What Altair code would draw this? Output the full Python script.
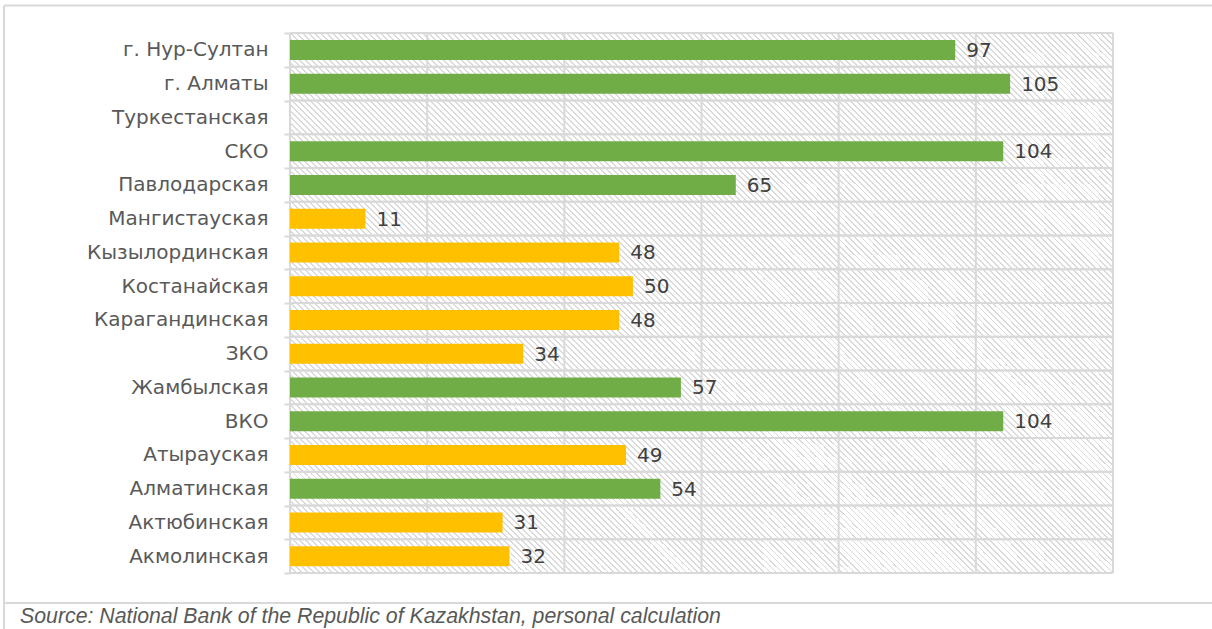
import altair as alt
import pandas as pd

# ---- data ----
regions = ["г. Нур-Султан", "г. Алматы", "Туркестанская", "СКО", "Павлодарская",
           "Мангистауская", "Кызылординская", "Костанайская", "Карагандинская", "ЗКО",
           "Жамбылская", "ВКО", "Атырауская", "Алматинская", "Актюбинская", "Акмолинская"]
values = [97, 105, None, 104, 65, 11, 48, 50, 48, 34, 57, 104, 49, 54, 31, 32]
groups = ["green", "green", "green", "green", "green", "yellow", "yellow", "yellow",
          "yellow", "yellow", "green", "green", "yellow", "green", "yellow", "yellow"]
x_ticks = [0, 20, 40, 60, 80, 100, 120]
source_note = "Source: National Bank of the Republic of Kazakhstan, personal calculation"

# ---- layout / style ----
W, H = 823, 540
PAD_L, PAD_T = 290, 33
TOTAL_W, TOTAL_H = 1212, 629
GRID = "#d9d9d9"
LABEL_FONT = "DejaVu Sans"
FS = 20

df = pd.DataFrame({"region": regions, "value": values, "group": groups})
ticks_df = pd.DataFrame({"t": x_ticks})
reg_df = pd.DataFrame({"region": regions})
one = pd.DataFrame({"a": [0]})
src_df = pd.DataFrame({"t": [source_note]})

xscale = alt.Scale(domain=[0, 120], nice=False, zero=True)
yscale = alt.Scale(domain=regions, paddingInner=0, paddingOuter=0)
yaxis = alt.Axis(title=None, domain=False, grid=False, ticks=True,
                 tickBand="extent", tickSize=6, tickColor=GRID, tickWidth=2,
                 labelFont=LABEL_FONT, labelFontSize=FS, labelColor="#595959",
                 labelPadding=16, labelLimit=300)

# diagonal hatch built as a striped linear gradient
T = W + H
P = 6.0
frac = 0.32
white, gray = "#ffffff", "#dadada"
stops = []
k = 0
while k * P / T <= 1:
    a = k * P / T
    b = min((k * P + P * frac) / T, 1.0)
    stops += [alt.GradientStop(offset=a, color=white), alt.GradientStop(offset=a, color=gray),
              alt.GradientStop(offset=b, color=gray), alt.GradientStop(offset=b, color=white)]
    k += 1
coef = T / (W * W + H * H)
hatch_fill = alt.LinearGradient(gradient="linear", stops=stops, x1=0, y1=1,
                                x2=coef * W, y2=1 - coef * H)

hatch = alt.Chart(one).mark_rect(fill=hatch_fill, strokeWidth=0).encode(
    x=alt.value(0), x2=alt.value(W), y=alt.value(0), y2=alt.value(H))

vgrid = alt.Chart(ticks_df).mark_rule(color=GRID, strokeWidth=2).encode(
    x=alt.X("t:Q", scale=xscale, axis=None), y=alt.value(0), y2=alt.value(H))

hgrid_top = alt.Chart(reg_df).mark_rule(color=GRID, strokeWidth=2).encode(
    y=alt.Y("region:N", scale=yscale, bandPosition=0, axis=yaxis),
    x=alt.value(0), x2=alt.value(W))
hgrid_bot = alt.Chart(reg_df).mark_rule(color=GRID, strokeWidth=2).encode(
    y=alt.Y("region:N", scale=yscale, bandPosition=1, axis=yaxis),
    x=alt.value(0), x2=alt.value(W))

bars = alt.Chart(df).mark_bar(height=20).encode(
    x=alt.X("value:Q", scale=xscale, axis=None),
    y=alt.Y("region:N", scale=yscale, axis=yaxis),
    color=alt.Color("group:N", scale=alt.Scale(domain=["green", "yellow"],
                                               range=["#70ad47", "#ffc000"]), legend=None),
)

labels = alt.Chart(df).mark_text(align="left", baseline="middle", dx=11, dy=1,
                                 font=LABEL_FONT, fontSize=FS, color="#404040").encode(
    x=alt.X("value:Q", scale=xscale, axis=None),
    y=alt.Y("region:N", scale=yscale, axis=yaxis),
    text=alt.Text("value:Q", format="d"),
)

frame_top = alt.Chart(one).mark_rule(color=GRID, strokeWidth=2).encode(
    x=alt.value(4 - PAD_L), x2=alt.value(TOTAL_W - PAD_L), y=alt.value(5.5 - PAD_T))
frame_left = alt.Chart(one).mark_rule(color=GRID, strokeWidth=2).encode(
    x=alt.value(4 - PAD_L), y=alt.value(5.5 - PAD_T), y2=alt.value(TOTAL_H - PAD_T))
frame_sep = alt.Chart(one).mark_rule(color=GRID, strokeWidth=2).encode(
    x=alt.value(4 - PAD_L), x2=alt.value(TOTAL_W - PAD_L), y=alt.value(603 - PAD_T))

source = alt.Chart(src_df).mark_text(align="left", baseline="alphabetic",
                                     font="Liberation Sans", fontStyle="italic",
                                     fontSize=21.3, color="#595959").encode(
    x=alt.value(20 - PAD_L), y=alt.value(623 - PAD_T), text="t:N")

chart = alt.layer(hatch, vgrid, hgrid_top, hgrid_bot, bars, labels,
                  frame_top, frame_left, frame_sep, source).properties(
    width=W, height=H,
    padding={"left": PAD_L, "top": PAD_T, "right": TOTAL_W - PAD_L - W,
             "bottom": TOTAL_H - PAD_T - H},
    autosize=alt.AutoSizeParams(type="none"),
    background="white",
).configure_view(stroke=None)

chart.save("out.html", embed_options={"renderer": "svg", "actions": False})
